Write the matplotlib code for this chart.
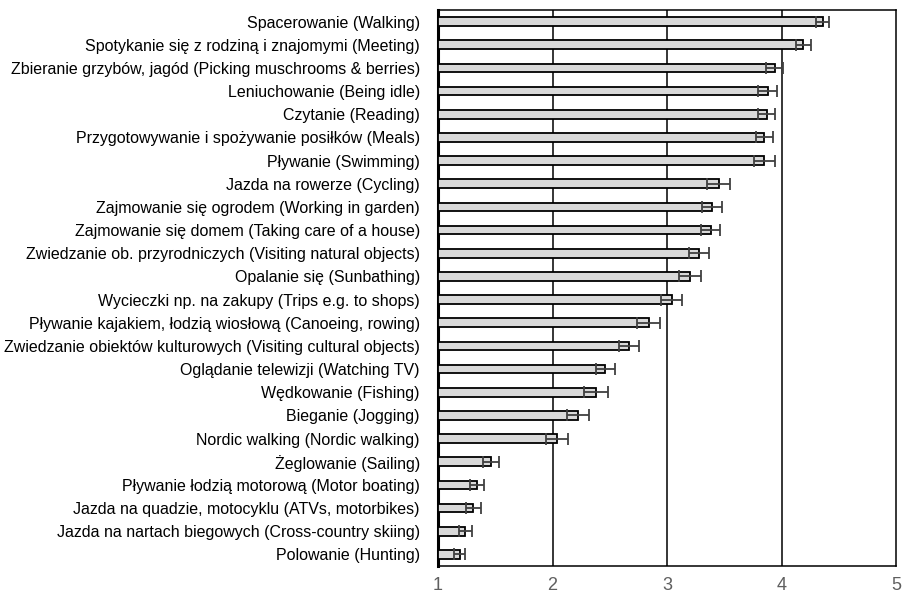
import matplotlib
matplotlib.use("Agg")
import matplotlib.pyplot as plt
import numpy as np

plt.rcParams['font.family'] = ['Liberation Sans', 'DejaVu Sans']

categories = [
    "Spacerowanie (Walking)",
    "Spotykanie się z rodziną i znajomymi (Meeting)",
    "Zbieranie grzybów, jagód (Picking muschrooms & berries)",
    "Leniuchowanie (Being idle)",
    "Czytanie (Reading)",
    "Przygotowywanie i spożywanie posiłków (Meals)",
    "Pływanie (Swimming)",
    "Jazda na rowerze (Cycling)",
    "Zajmowanie się ogrodem (Working in garden)",
    "Zajmowanie się domem (Taking care of a house)",
    "Zwiedzanie ob. przyrodniczych (Visiting natural objects)",
    "Opalanie się (Sunbathing)",
    "Wycieczki np. na zakupy (Trips e.g. to shops)",
    "Pływanie kajakiem, łodzią wiosłową (Canoeing, rowing)",
    "Zwiedzanie obiektów kulturowych (Visiting cultural objects)",
    "Oglądanie telewizji (Watching TV)",
    "Wędkowanie (Fishing)",
    "Bieganie (Jogging)",
    "Nordic walking (Nordic walking)",
    "Żeglowanie (Sailing)",
    "Pływanie łodzią motorową (Motor boating)",
    "Jazda na quadzie, motocyklu (ATVs, motorbikes)",
    "Jazda na nartach biegowych (Cross-country skiing)",
    "Polowanie (Hunting)",
]
means = [4.36, 4.19, 3.94, 3.88, 3.87, 3.85, 3.85, 3.45, 3.39, 3.38, 3.28, 3.20,
         3.04, 2.84, 2.67, 2.46, 2.38, 2.22, 2.04, 1.46, 1.34, 1.31, 1.24, 1.19]
errors = [0.058, 0.065, 0.076, 0.083, 0.074, 0.074, 0.089, 0.098, 0.087, 0.084,
          0.087, 0.096, 0.089, 0.10, 0.087, 0.084, 0.105, 0.096, 0.095, 0.071,
          0.064, 0.065, 0.054, 0.05]
xticks = [1, 2, 3, 4, 5]

fig = plt.figure(figsize=(9.02, 5.96), dpi=100)
ax = fig.add_axes([438/902, 1-566/596, (896-438)/902, (566-10)/596])

y = np.arange(len(categories))
base = 1
ax.barh(y, np.array(means) - base, left=base, height=0.38, color='#d9d9d9',
        edgecolor='black', linewidth=1.3, zorder=3)
ax.errorbar(means, y, xerr=errors, fmt='none', ecolor='#404040', elinewidth=1.3,
            capsize=4.2, capthick=1.3, zorder=4)

ax.set_xlim(1, 5)
ax.set_ylim(len(categories) - 0.5, -0.5)
ax.set_yticks(y)
ax.set_yticklabels(categories, fontsize=11.5, color='black')
ax.set_xticks(xticks)
ax.set_xticklabels([str(t) for t in xticks], fontsize=13, color='#5f5f5f')
ax.tick_params(axis='both', length=0)
ax.tick_params(axis='x', pad=8)
ax.tick_params(axis='y', pad=13)
for xv in [2, 3, 4]:
    ax.axvline(xv, color='black', linewidth=1.1, zorder=1)
for s in ax.spines.values():
    s.set_color('black')
    s.set_linewidth(1.1)
ax.spines['left'].set_linewidth(2.2)

fig.savefig("out.png", dpi=100)
